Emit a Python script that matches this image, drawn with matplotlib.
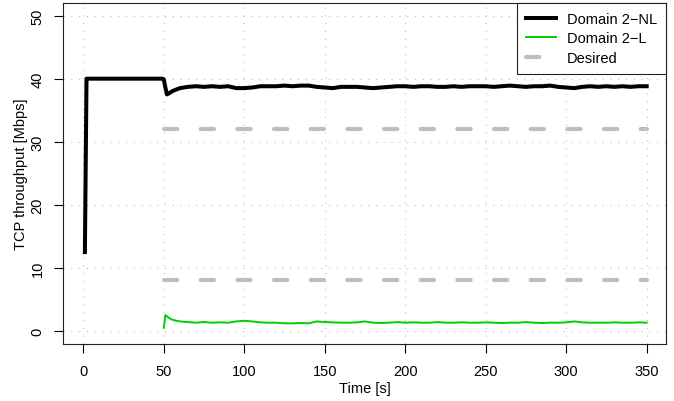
import matplotlib
matplotlib.use('Agg')
import matplotlib.pyplot as plt
import numpy as np

plt.rcParams['font.family'] = ['Liberation Sans', 'DejaVu Sans']
plt.rcParams['font.size'] = 10.5

# Durchsatz Domain 2-NL (nicht-linear)
t_nl = [1, 2, 10, 20, 30, 40, 49, 50, 51, 52, 54, 56, 58, 60, 65, 70, 75, 80, 85, 90,
        95, 100, 105, 110, 115, 120, 125, 130, 135, 140, 145, 150, 155, 160, 165, 170,
        175, 180, 185, 190, 195, 200, 205, 210, 215, 220, 225, 230, 235, 240, 245, 250,
        255, 260, 265, 270, 275, 280, 285, 290, 295, 300, 305, 310, 315, 320, 325, 330,
        335, 340, 345, 350]
nl = [12.5, 40, 40, 40, 40, 40, 40, 39.9, 38.6, 37.5, 37.8, 38.1, 38.3, 38.5, 38.7, 38.8,
      38.7, 38.8, 38.7, 38.8, 38.5, 38.5, 38.6, 38.8, 38.8, 38.8, 38.9, 38.8, 38.9, 38.9,
      38.7, 38.6, 38.5, 38.7, 38.7, 38.7, 38.6, 38.5, 38.6, 38.7, 38.8, 38.8, 38.7, 38.8,
      38.8, 38.7, 38.7, 38.8, 38.7, 38.8, 38.8, 38.8, 38.7, 38.8, 38.9, 38.8, 38.7, 38.8,
      38.8, 38.9, 38.7, 38.6, 38.5, 38.7, 38.8, 38.7, 38.8, 38.7, 38.8, 38.7, 38.8, 38.8]

# Durchsatz Domain 2-L (linear)
t_l = [50, 51, 53, 55, 58, 60, 65, 70, 75, 80, 85, 90, 95, 100, 105, 110, 115, 120, 125,
       130, 135, 140, 145, 150, 155, 160, 165, 170, 175, 180, 185, 190, 195, 200, 205, 210,
       215, 220, 225, 230, 235, 240, 245, 250, 255, 260, 265, 270, 275, 280, 285, 290, 295,
       300, 305, 310, 315, 320, 325, 330, 335, 340, 345, 350]
l = [0.5, 2.5, 2.1, 1.8, 1.6, 1.5, 1.4, 1.3, 1.4, 1.3, 1.35, 1.3, 1.5, 1.6, 1.5, 1.35,
     1.3, 1.3, 1.2, 1.2, 1.25, 1.2, 1.5, 1.4, 1.35, 1.3, 1.3, 1.35, 1.5, 1.3, 1.25, 1.3,
     1.4, 1.3, 1.35, 1.3, 1.3, 1.4, 1.3, 1.3, 1.35, 1.3, 1.3, 1.35, 1.3, 1.25, 1.3, 1.3,
     1.4, 1.3, 1.25, 1.3, 1.3, 1.35, 1.5, 1.35, 1.3, 1.3, 1.3, 1.35, 1.3, 1.3, 1.35, 1.3]

# Sollwerte
t_des = [50, 350]
des_nl = [32, 32]
des_l = [8, 8]

labels = ['Domain 2\u2212NL', 'Domain 2\u2212L', 'Desired']

fig = plt.figure(figsize=(6.74, 4.02), dpi=100)
ax = fig.add_axes([63 / 674, (402 - 344.5) / 402, (666 - 63) / 674, (344.5 - 4) / 402])

# gepunktetes Gitter an den Ticks
xticks = np.arange(0, 351, 50)
yticks = np.arange(0, 51, 10)
grid_style = dict(color='#B8B8B8', lw=0.75, ls=(0, (1, 6.5)), zorder=0)
for x in xticks:
    ax.axvline(x, **grid_style)
for y in yticks:
    ax.axhline(y, **grid_style)

dash = (0, (3.2, 5.6))
ax.plot(t_des, des_nl, color='#BEBEBE', lw=3.0, ls=dash, dash_capstyle='round', zorder=1)
ax.plot(t_des, des_l, color='#BEBEBE', lw=3.0, ls=dash, dash_capstyle='round', zorder=1)
h_nl, = ax.plot(t_nl, nl, color='black', lw=2.9, solid_joinstyle='round', zorder=3)
h_l, = ax.plot(t_l, l, color='#00CD00', lw=1.4, zorder=3)
h_d, = ax.plot([], [], color='#BEBEBE', lw=3.0, ls=dash, dash_capstyle='round')

ax.set_xlim(-12.6, 362)
ax.set_ylim(-2, 52)
ax.set_xticks(xticks)
ax.set_yticks(yticks)
ax.tick_params(direction='out', length=6.8, width=0.8, pad=8)
ax.tick_params(axis='y', pad=6.5)
plt.setp(ax.get_yticklabels(), rotation=90, va='center')
for s in ax.spines.values():
    s.set_linewidth(0.8)
    s.set_color('#222222')

ax.set_xlabel('Time [s]')
ax.set_ylabel('TCP throughput [Mbps]')
ax.xaxis.set_label_coords(0.5, -0.11)
ax.yaxis.set_label_coords(-0.058, 0.5)

leg = ax.legend([h_nl, h_l, h_d], labels,
                loc='upper right', bbox_to_anchor=(1, 1), borderaxespad=0,
                fancybox=False, framealpha=1, edgecolor='#222222',
                handlelength=2.1, handletextpad=0.75, labelspacing=0.38,
                borderpad=0.6)
leg.get_frame().set_linewidth(0.8)

fig.savefig('out.png', dpi=100)
